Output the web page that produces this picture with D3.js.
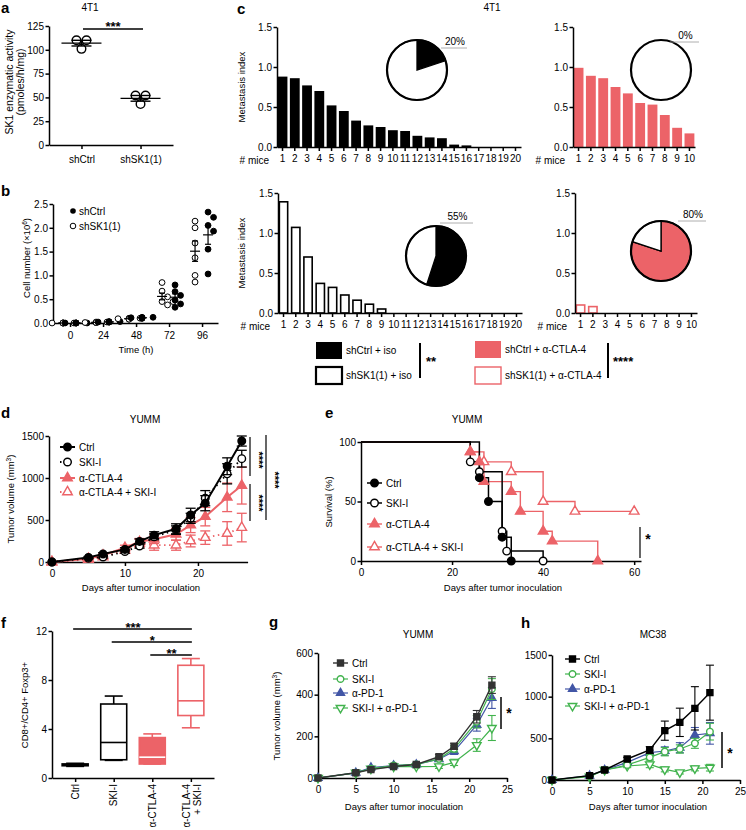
<!DOCTYPE html>
<html><head><meta charset="utf-8">
<script src="https://cdn.jsdelivr.net/npm/d3@7"></script>
<style>body{margin:0;background:#fff}svg{font-family:'Liberation Sans',Arial,Helvetica,sans-serif}</style>
</head><body><svg id="chart" width="746" height="830"></svg>
<script>
// ---------------- DATA ----------------
// a
const aGroups = ["shCtrl", "shSK1(1)"];
const aShCtrl = [110, 110, 101];
const aShSK1 = [52, 52, 43];
const aTicks = [0, 25, 50, 75, 100, 125];
// b
const bTimes = [0, 24, 48, 72, 96];
const bShCtrl = [[0, 0, 0, 0, 0, 0], [0.02, 0.02, 0.03, 0.02, 0.03, 0.02], [0.10, 0.11, 0.12, 0.10, 0.12, 0.11], [0.80, 0.66, 0.58, 0.48, 0.40, 0.33], [2.33, 2.22, 2.05, 1.93, 1.55, 1.03]];
const bShSK1 = [[0, 0, 0, 0, 0, 0], [0.01, 0.01, 0.02, 0.01, 0.02, 0.01], [0.08, 0.09, 0.10, 0.08, 0.09, 0.10], [0.85, 0.67, 0.55, 0.45, 0.45, 0.38], [2.14, 2.0, 1.68, 1.37, 1.0, 0.86]];
const bTicks = [0, 0.5, 1.0, 1.5, 2.0, 2.5];
// c
const cShCtrlIso = [0.88, 0.86, 0.77, 0.70, 0.52, 0.45, 0.33, 0.27, 0.25, 0.21, 0.20, 0.14, 0.12, 0.11, 0.03, 0.02, 0, 0, 0, 0];
const cShSK1Iso = [1.39, 1.07, 0.70, 0.37, 0.32, 0.225, 0.16, 0.11, 0.05, 0, 0, 0, 0, 0, 0, 0, 0, 0, 0, 0];
const cShCtrlCTLA = [0.99, 0.89, 0.86, 0.75, 0.67, 0.55, 0.53, 0.40, 0.24, 0.17];
const cShSK1CTLA = [0.10, 0.08, 0, 0, 0, 0, 0, 0, 0, 0];
const cFreePct = [20, 55, 0, 80]; // TL, BL, TR, BR
const cTicks = [0, 0.5, 1.0, 1.5];
const cLegend = ["shCtrl + iso", "shSK1(1) + iso", "shCtrl + α-CTLA-4", "shSK1(1) + α-CTLA-4"];
// d
const dDays = [0, 5, 7, 10, 12, 14, 17, 19, 21, 24, 26];
const dCtrl = [0, 55, 95, 150, 245, 320, 395, 560, 700, 1140, 1440];
const dCtrlErr = [0, 10, 15, 20, 30, 40, 60, 80, 90, 100, 60];
const dSKI = [0, 45, 60, 125, 190, 300, 380, 520, 760, 1050, 1230];
const dSKIErr = [0, 8, 12, 20, 25, 35, 50, 60, 90, 120, 100];
const dCTLA = [0, 40, 80, 170, 240, 270, 330, 440, 540, 770, 910];
const dCTLAErr = [0, 10, 15, 30, 40, 50, 70, 90, 110, 170, 220];
const dCombo = [0, 30, 60, 140, 220, 200, 200, 250, 290, 340, 410];
const dComboErr = [0, 8, 12, 30, 50, 60, 60, 70, 80, 140, 170];
const dLegend = ["Ctrl", "SKI-I", "α-CTLA-4", "α-CTLA-4 + SKI-I"];
const dYTicks = [0, 500, 1000, 1500];
const dXTicks = [0, 10, 20];
// e
const eCtrlT = [0, 26, 28, 31, 33], eCtrlS = [100, 70, 50, 20, 0];
const eSKIT = [0, 24, 26, 31, 32, 40], eSKIS = [100, 83.3, 75, 25, 8.3, 0];
const eCTLAT = [0, 24, 26, 27, 33, 35, 40, 42, 52], eCTLAS = [100, 91.7, 83.3, 66.7, 58.3, 41.7, 25, 16.7, 0];
const eComboT = [0, 24, 27, 33, 40, 47, 60], eComboS = [100, 91.7, 83.3, 75, 50, 41.7, 41.7];
const eYTicks = [0, 50, 100];
const eXTicks = [0, 20, 40, 60];
// f
const fGroups = ["Ctrl", "SKI-I", "α-CTLA-4", "α-CTLA-4|+ SKI-I"];
const fMin = [0.95, 1.44, 1.14, 4.1];
const fQ1 = [1.0, 1.49, 1.14, 5.1];
const fMed = [1.05, 2.9, 1.7, 6.3];
const fQ3 = [1.15, 6.04, 3.3, 9.2];
const fMax = [1.2, 6.69, 3.6, 9.75];
const fTicks = [0, 4, 8, 12];
// g
const gDays = [0, 5, 7, 10, 13, 16, 18, 21, 23];
const gCtrl = [0, 25, 40, 55, 65, 102, 152, 294, 446];
const gCtrlErr = [0, 4, 6, 6, 6, 10, 15, 30, 40];
const gSKI = [0, 25, 45, 60, 65, 92, 140, 270, 427];
const gSKIErr = [0, 4, 6, 6, 6, 10, 15, 30, 50];
const gPD1 = [0, 25, 50, 60, 65, 90, 128, 255, 384];
const gPD1Err = [0, 4, 6, 6, 6, 10, 15, 30, 50];
const gCombo = [0, 25, 45, 55, 55, 56, 75, 158, 240];
const gComboErr = [0, 4, 6, 6, 6, 10, 15, 30, 60];
const gLegend = ["Ctrl", "SKI-I", "α-PD-1", "SKI-I + α-PD-1"];
const gYTicks = [0, 200, 400, 600];
const ghXTicks = [0, 5, 10, 15, 20, 25];
// h
const hDays = [0, 5, 7, 10, 13, 15, 17, 19, 21];
const hCtrl = [0, 52, 120, 252, 360, 592, 692, 860, 1048];
const hCtrlErr = [0, 8, 12, 20, 40, 115, 170, 260, 330];
const hSKI = [0, 48, 120, 180, 272, 340, 372, 440, 580];
const hSKIErr = [0, 8, 12, 20, 30, 50, 50, 60, 100];
const hPD1 = [0, 52, 120, 212, 328, 348, 388, 540, 560];
const hPD1Err = [0, 8, 12, 20, 30, 50, 60, 90, 130];
const hCombo = [0, 40, 120, 168, 188, 128, 92, 140, 148];
const hComboErr = [0, 8, 12, 20, 40, 30, 20, 30, 40];
const hYTicks = [0, 500, 1000, 1500];

// ---------------- HELPERS ----------------
const svg = d3.select("#chart");
const FONT = "'Liberation Sans', Arial, Helvetica, sans-serif";
const RED = "#ec6368", GREEN = "#41b34d", BLUE = "#4256a6", DARK = "#333333";

function styleAxis(g) {
  g.attr("font-family", FONT).attr("font-size", 10);
  g.selectAll(".domain").attr("stroke", "#000").attr("stroke-width", 1.5);
  g.selectAll(".tick line").attr("stroke", "#000").attr("stroke-width", 1.5);
  g.selectAll(".tick text").attr("fill", "#000");
}
function txt(g, x, y, s, o = {}) {
  const t = g.append("text").attr("x", x).attr("y", y).text(s)
    .attr("font-size", o.size || 10).attr("fill", o.fill || "#000")
    .attr("text-anchor", o.anchor || "start");
  if (o.bold) t.attr("font-weight", "bold");
  if (o.rotate != null) t.attr("transform", `rotate(${o.rotate},${x},${y})`);
  if (o.dy) t.attr("dy", o.dy);
  return t;
}
function yAxis(g, scale, x, ticks, fmt) {
  g.append("g").attr("transform", `translate(${x},0)`)
    .call(d3.axisLeft(scale).tickValues(ticks).tickSize(3.5).tickSizeOuter(0).tickPadding(1.5).tickFormat(fmt || d3.format("d")))
    .call(styleAxis);
}
function xAxis(g, scale, y, ticks, fmt, pad) {
  const ax = d3.axisBottom(scale).tickSize(4).tickSizeOuter(0).tickPadding(pad || 3);
  if (ticks) ax.tickValues(ticks);
  if (fmt) ax.tickFormat(fmt);
  g.append("g").attr("transform", `translate(0,${y})`).call(ax).call(styleAxis);
}
const symMap = { circle: d3.symbolCircle, square: d3.symbolSquare, tri: d3.symbolTriangle, tridown: d3.symbolTriangle };
function marker(g, type, x, y, color, filled, size) {
  g.append("path").attr("d", d3.symbol(symMap[type], size || 40)())
    .attr("transform", `translate(${x},${y})` + (type === "tridown" ? " rotate(180)" : ""))
    .attr("fill", filled ? color : "#fff").attr("stroke", color).attr("stroke-width", 1.4);
}
function stars(g, x, lineY, s, size) { txt(g, x, lineY + 4, s, { anchor: "middle", bold: true, size: size || 13 }); }
function panelLetter(x, y, s) { txt(svg, x, y, s, { bold: true, size: 15 }); }

function lineSeries(g, x, y, days, series, capW) {
  series.forEach(s => {
    const eg = g.append("g");
    days.forEach((d, i) => {
      const e = s.err[i]; if (!e) return;
      const cx = x(d), y1 = y(s.vals[i] + e), y0 = y(Math.max(0, s.vals[i] - e));
      eg.append("line").attr("x1", cx).attr("x2", cx).attr("y1", y1).attr("y2", y0).attr("stroke", s.color).attr("stroke-width", s.ew || 1.3);
      [y1, y0].forEach(yy => eg.append("line").attr("x1", cx - capW).attr("x2", cx + capW).attr("y1", yy).attr("y2", yy).attr("stroke", s.color).attr("stroke-width", s.ew || 1.3));
    });
    g.append("path").datum(days.map((d, i) => [d, s.vals[i]]))
      .attr("d", d3.line().x(p => x(p[0])).y(p => y(p[1])))
      .attr("fill", "none").attr("stroke", s.color).attr("stroke-width", s.width)
      .attr("stroke-dasharray", s.dash || null);
    days.forEach((d, i) => marker(g, s.marker, x(d), y(s.vals[i]), s.color, s.filled, s.size));
  });
}
function legend(g, x0, ys, labels, series, len) {
  labels.forEach((l, i) => {
    const s = series[i];
    g.append("line").attr("x1", x0).attr("x2", x0 + len).attr("y1", ys[i]).attr("y2", ys[i])
      .attr("stroke", s.color).attr("stroke-width", s.width).attr("stroke-dasharray", s.dash || null);
    marker(g, s.marker, x0 + len / 2, ys[i], s.color, s.filled, s.size);
    txt(g, x0 + len + 4, ys[i], l, { dy: "0.35em", size: 10 });
  });
}

// ---------------- PANEL A ----------------
{
  const g = svg.append("g");
  panelLetter(1, 13, "a");
  txt(g, 90, 11, "4T1", { anchor: "middle" });
  const y = d3.scaleLinear().domain([0, 125]).range([145, 26]);
  const x = d3.scalePoint().domain(aGroups).range([49, 173]).padding(0.55);
  yAxis(g, y, 49, aTicks);
  xAxis(g, x, 145, null, null, 7);
  txt(g, 9, 82, "SK1 enzymatic activity", { anchor: "middle", rotate: -90, dy: "0.35em", size: 10.5 });
  txt(g, 20, 82, "(pmoles/h/mg)", { anchor: "middle", rotate: -90, dy: "0.35em", size: 10.5 });
  const jit = [-5, 5, 0];
  [aShCtrl, aShSK1].forEach((vals, k) => {
    const cx = x(aGroups[k]);
    const m = d3.mean(vals), se = d3.deviation(vals) / Math.sqrt(vals.length);
    vals.forEach((v, i) => g.append("circle").attr("cx", cx + jit[i]).attr("cy", y(v)).attr("r", 4.3).attr("fill", "none").attr("stroke", "#000").attr("stroke-width", 1.4));
    g.append("line").attr("x1", cx - 20).attr("x2", cx + 20).attr("y1", y(m)).attr("y2", y(m)).attr("stroke", "#000").attr("stroke-width", 1.4);
    g.append("line").attr("x1", cx).attr("x2", cx).attr("y1", y(m + se)).attr("y2", y(m - se)).attr("stroke", "#000").attr("stroke-width", 1.4);
    [m + se, m - se].forEach(v => g.append("line").attr("x1", cx - 10).attr("x2", cx + 10).attr("y1", y(v)).attr("y2", y(v)).attr("stroke", "#000").attr("stroke-width", 1.4));
  });
  g.append("line").attr("x1", 83).attr("x2", 143).attr("y1", 29).attr("y2", 29).attr("stroke", "#000").attr("stroke-width", 1.5);
  stars(g, 113, 27, "***");
}

// ---------------- PANEL B ----------------
{
  const g = svg.append("g");
  panelLetter(1, 196, "b");
  const x = d3.scaleLinear().domain([-12.4, 107.6]).range([53, 218]);
  const y = d3.scaleLinear().domain([0, 2.5]).range([323, 204]);
  yAxis(g, y, 53, bTicks, d3.format(".1f"));
  xAxis(g, x, 323, bTimes, d3.format("d"), 5);
  const yl = g.append("text").attr("transform", "translate(27,258) rotate(-90)").attr("text-anchor", "middle").attr("font-size", 9.5).attr("dy", "0.35em");
  yl.append("tspan").text("Cell number (×10");
  yl.append("tspan").text("6").attr("font-size", 6.5).attr("dy", "-0.5em");
  yl.append("tspan").text(")").attr("dy", "0.3em");
  txt(g, 136, 353, "Time (h)", { anchor: "middle", size: 9.5 });
  g.append("circle").attr("cx", 73).attr("cy", 211).attr("r", 2.8).attr("fill", "#000");
  txt(g, 79, 211, "shCtrl", { dy: "0.35em" });
  g.append("circle").attr("cx", 73).attr("cy", 226).attr("r", 2.8).attr("fill", "#fff").attr("stroke", "#000").attr("stroke-width", 1);
  txt(g, 79, 226, "shSK1(1)", { dy: "0.35em" });
  function swarm(vals, cx) {
    const placed = [];
    const order = vals.map((v, i) => i).sort((a, b) => vals[b] - vals[a]);
    const out = [];
    order.forEach(i => {
      const py = y(vals[i]);
      const offs = [0, 5.5, -5.5, 11, -11, 3, -3];
      for (const o of offs) {
        if (placed.every(p => Math.hypot(p[0] - (cx + o), p[1] - py) >= 5.8)) { placed.push([cx + o, py]); out.push([cx + o, py]); return; }
      }
      placed.push([cx, py]); out.push([cx, py]);
    });
    return out;
  }
  bTimes.forEach((t, i) => {
    [[bShSK1[i], -7, false], [bShCtrl[i], 6, true]].forEach(([vals, off, filled]) => {
      const cx = x(t) + off;
      swarm(vals, cx).forEach(p => g.append("circle").attr("cx", p[0]).attr("cy", p[1]).attr("r", 2.9)
        .attr("fill", filled ? "#000" : "#fff").attr("stroke", "#000").attr("stroke-width", 1));
      const m = d3.mean(vals), se = d3.deviation(vals) / Math.sqrt(vals.length);
      g.append("line").attr("x1", cx - 5).attr("x2", cx + 5).attr("y1", y(m)).attr("y2", y(m)).attr("stroke", "#000").attr("stroke-width", 1.2);
      if (se > 0.01) {
        g.append("line").attr("x1", cx).attr("x2", cx).attr("y1", y(m + se)).attr("y2", y(m - se)).attr("stroke", "#000").attr("stroke-width", 1.2);
        [m + se, m - se].forEach(v => g.append("line").attr("x1", cx - 3).attr("x2", cx + 3).attr("y1", y(v)).attr("y2", y(v)).attr("stroke", "#000").attr("stroke-width", 1.2));
      }
    });
  });
}

// ---------------- PANEL C ----------------
{
  const g = svg.append("g");
  panelLetter(237, 14, "c");
  txt(g, 492, 11, "4T1", { anchor: "middle" });
  const cfgs = [
    { vals: cShCtrlIso, x0: 277, x1: 521, yt: 27, yb: 147, fill: "#000", stroke: null, pct: cFreePct[0], pieFill: "#000", cx: 417, cy: 70, ylab: true, lab: [-22, 24, 50] },
    { vals: cShSK1Iso, x0: 278, x1: 522, yt: 193, yb: 313, fill: "#fff", stroke: "#000", pct: cFreePct[1], pieFill: "#000", cx: 436, cy: 256, ylab: true, lab: [-33, 4, 37] },
    { vals: cShCtrlCTLA, x0: 573, x1: 695, yt: 27, yb: 147, fill: RED, stroke: null, pct: cFreePct[2], pieFill: RED, cx: 661, cy: 70, ylab: false, lab: [-28, 9, 38] },
    { vals: cShSK1CTLA, x0: 575, x1: 697, yt: 193, yb: 313, fill: "#fff", stroke: RED, pct: cFreePct[3], pieFill: RED, cx: 661, cy: 251, ylab: false, lab: [-30, 17, 45] }
  ];
  cfgs.forEach(c => {
    const n = c.vals.length;
    const x = d3.scaleBand().domain(d3.range(1, n + 1)).range([c.x0, c.x1]).paddingInner(0.2).paddingOuter(0.05);
    const y = d3.scaleLinear().domain([0, 1.5]).range([c.yb, c.yt]);
    c.vals.forEach((v, i) => {
      if (v <= 0) return;
      g.append("rect").attr("x", x(i + 1) + (c.stroke ? 0.75 : 0)).attr("width", x.bandwidth() - (c.stroke ? 1.5 : 0))
        .attr("y", y(v)).attr("height", y(0) - y(v))
        .attr("fill", c.fill).attr("stroke", c.stroke).attr("stroke-width", c.stroke ? 1.6 : 0);
    });
    yAxis(g, y, c.x0, cTicks, d3.format(".1f"));
    xAxis(g, x, c.yb, null, null, 4);
    txt(g, c.x0 - 8, c.yb + 17, "# mice", { anchor: "end" });
    if (c.ylab) txt(g, 242, (c.yt + c.yb) / 2, "Metastasis index", { anchor: "middle", rotate: -90, dy: "0.35em", size: 9.5 });
    const r = 30;
    const arcs = d3.pie().sort(null)([c.pct, 100 - c.pct]);
    const arc = d3.arc().innerRadius(0).outerRadius(r);
    const pg = g.append("g").attr("transform", `translate(${c.cx},${c.cy})`);
    arcs.forEach((a, i) => {
      if (a.endAngle - a.startAngle <= 0) return;
      pg.append("path").attr("d", arc(a)).attr("fill", i === 0 ? c.pieFill : "#fff").attr("stroke", "#000").attr("stroke-width", c.pct > 0 ? 1.3 : 0);
    });
    pg.append("circle").attr("r", r).attr("fill", "none").attr("stroke", "#000").attr("stroke-width", 2.2);
    const ly = c.cy + c.lab[0];
    g.append("line").attr("x1", c.cx + c.lab[1]).attr("x2", c.cx + c.lab[2]).attr("y1", ly).attr("y2", ly).attr("stroke", "#999").attr("stroke-width", 0.8);
    txt(g, c.cx + (c.lab[1] + c.lab[2]) / 2 + 1, ly - 3, c.pct + "%", { anchor: "middle" });
  });
  const lg = svg.append("g");
  const boxes = [[316, 342, "#000", "#000", 0], [316, 367, "#fff", "#000", 2.2], [475, 341, RED, RED, 0], [475, 367, "#fff", RED, 1.4]];
  boxes.forEach((b, i) => {
    lg.append("rect").attr("x", b[0]).attr("y", b[1]).attr("width", 26).attr("height", 17)
      .attr("fill", b[2]).attr("stroke", b[4] ? b[3] : null).attr("stroke-width", b[4]);
    txt(lg, b[0] + 30, b[1] + 8.5, cLegend[i], { dy: "0.35em" });
  });
  lg.append("line").attr("x1", 420).attr("x2", 420).attr("y1", 343).attr("y2", 378).attr("stroke", "#000").attr("stroke-width", 2);
  txt(lg, 426, 366, "**", { bold: true, size: 13 });
  lg.append("line").attr("x1", 608).attr("x2", 608).attr("y1", 343).attr("y2", 378).attr("stroke", "#000").attr("stroke-width", 2);
  txt(lg, 613, 366, "****", { bold: true, size: 13 });
}

// ---------------- PANEL D ----------------
{
  const g = svg.append("g");
  panelLetter(1, 418, "d");
  txt(g, 145, 423, "YUMM", { anchor: "middle" });
  const x = d3.scaleLinear().domain([-0.4, 26.8]).range([49, 247.6]);
  const y = d3.scaleLinear().domain([0, 1500]).range([562, 436]);
  yAxis(g, y, 49, dYTicks);
  xAxis(g, x, 562, dXTicks, d3.format("d"), 4);
  const yl = g.append("text").attr("transform", "translate(11,499) rotate(-90)").attr("text-anchor", "middle").attr("font-size", 9.5).attr("dy", "0.35em");
  yl.append("tspan").text("Tumor volume (mm");
  yl.append("tspan").text("3").attr("font-size", 6.5).attr("dy", "-0.5em");
  yl.append("tspan").text(")").attr("dy", "0.3em");
  txt(g, 141, 591, "Days after tumor inoculation", { anchor: "middle", size: 9.5 });
  const series = [
    { vals: dCombo, err: dComboErr, color: RED, width: 1.8, dash: "1.5,3.5", marker: "tri", filled: false, size: 40 },
    { vals: dCTLA, err: dCTLAErr, color: RED, width: 2, marker: "tri", filled: true, size: 40 },
    { vals: dSKI, err: dSKIErr, color: "#000", width: 1.8, dash: "1.5,3.5", marker: "circle", filled: false, size: 45 },
    { vals: dCtrl, err: dCtrlErr, color: "#000", width: 2, marker: "circle", filled: true, size: 45 }
  ];
  series.forEach(s => s.ew = 1.3);
  lineSeries(g, x, y, dDays, series, 5);
  legend(g, 60, [447, 462, 478, 492], dLegend, [series[3], series[2], series[1], series[0]], 15);
  [[250, 437, 476], [250, 484, 521], [266, 435, 520]].forEach(l => g.append("line").attr("x1", l[0]).attr("x2", l[0]).attr("y1", l[1]).attr("y2", l[2]).attr("stroke", "#000").attr("stroke-width", 1.2));
  [[255, 460], [255, 503], [271, 480]].forEach(p => txt(g, p[0], p[1], "****", { anchor: "middle", bold: true, size: 11, rotate: 90 }));
}

// ---------------- PANEL E ----------------
{
  const g = svg.append("g");
  panelLetter(325, 418, "e");
  txt(g, 467, 423, "YUMM", { anchor: "middle" });
  const x = d3.scaleLinear().domain([0, 61.5]).range([361, 641]);
  const y = d3.scaleLinear().domain([0, 100]).range([561, 442]);
  yAxis(g, y, 361, eYTicks);
  xAxis(g, x, 561, eXTicks, d3.format("d"), 4);
  txt(g, 329, 502, "Survival (%)", { anchor: "middle", rotate: -90, dy: "0.35em", size: 9.5 });
  txt(g, 503, 591, "Days after tumor inoculation", { anchor: "middle", size: 9.5 });
  const series = [
    { t: eComboT, s: eComboS, color: RED, width: 1.4, marker: "tri", filled: false, size: 40 },
    { t: eCTLAT, s: eCTLAS, color: RED, width: 1.4, marker: "tri", filled: true, size: 40 },
    { t: eSKIT, s: eSKIS, color: "#000", width: 1.5, marker: "circle", filled: false, size: 45 },
    { t: eCtrlT, s: eCtrlS, color: "#000", width: 1.5, marker: "circle", filled: true, size: 45 }
  ];
  series.forEach(se => {
    const pts = se.t.map((t, i) => [t, se.s[i]]);
    g.append("path").datum(pts).attr("d", d3.line().x(p => x(p[0])).y(p => y(p[1])).curve(d3.curveStepAfter))
      .attr("fill", "none").attr("stroke", se.color).attr("stroke-width", se.width);
  });
  series.forEach(se => se.t.forEach((t, i) => { if (i > 0) marker(g, se.marker, x(t), y(se.s[i]), se.color, se.filled, se.size); }));
  legend(g, 367, [483, 503, 524, 547], dLegend, [series[3], series[2], series[1], series[0]], 15);
  g.append("line").attr("x1", 640).attr("x2", 640).attr("y1", 527).attr("y2", 558).attr("stroke", "#000").attr("stroke-width", 1.2);
  stars(g, 648, 540, "*", 14);
}

// ---------------- PANEL F ----------------
{
  const g = svg.append("g");
  panelLetter(1, 628, "f");
  const y = d3.scaleLinear().domain([0, 12]).range([778, 631]);
  const x = d3.scalePoint().domain(fGroups).range([52, 214]).padding(0.6);
  yAxis(g, y, 52, fTicks);
  const xa = d3.axisBottom(x).tickSize(4).tickSizeOuter(0).tickFormat("");
  g.append("g").attr("transform", "translate(0,778)").call(xa).call(styleAxis);
  fGroups.forEach((grp, i) => {
    const lines = grp.split("|");
    lines.forEach((l, k) => {
      const cx = x(grp) + (lines.length > 1 ? (k === 0 ? -4 : 7) : 0);
      txt(g, cx, 784, l, { anchor: "end", rotate: -90, dy: "0.35em" });
    });
  });
  txt(g, 25, 705, "CD8+/CD4+ Foxp3+", { anchor: "middle", rotate: -90, dy: "0.35em", size: 9.5 });
  const styles = [["#000", "#000", "#000"], ["#fff", "#000", "#000"], [RED, RED, "#fff"], ["#fff", RED, RED]];
  const bw = 26;
  fGroups.forEach((grp, i) => {
    const cx = x(grp), st = styles[i];
    g.append("line").attr("x1", cx).attr("x2", cx).attr("y1", y(fMax[i])).attr("y2", y(fMin[i])).attr("stroke", st[1]).attr("stroke-width", 1.6);
    [fMax[i], fMin[i]].forEach(v => g.append("line").attr("x1", cx - 9).attr("x2", cx + 9).attr("y1", y(v)).attr("y2", y(v)).attr("stroke", st[1]).attr("stroke-width", 1.6));
    g.append("rect").attr("x", cx - bw / 2).attr("width", bw).attr("y", y(fQ3[i])).attr("height", y(fQ1[i]) - y(fQ3[i]))
      .attr("fill", st[0]).attr("stroke", st[1]).attr("stroke-width", 1.6);
    g.append("line").attr("x1", cx - bw / 2).attr("x2", cx + bw / 2).attr("y1", y(fMed[i])).attr("y2", y(fMed[i])).attr("stroke", st[2]).attr("stroke-width", 1.6);
  });
  const last = x(fGroups[3]);
  [[0, 629, "***"], [1, 642, "*"], [2, 655, "**"]].forEach(s => {
    const x0 = x(fGroups[s[0]]);
    g.append("line").attr("x1", x0 - 2).attr("x2", last + 1).attr("y1", s[1]).attr("y2", s[1]).attr("stroke", "#000").attr("stroke-width", 1.5);
    stars(g, (x0 + last) / 2, s[1] - 1, s[2]);
  });
}

// ---------------- PANELS G, H ----------------
function ghPanel(o) {
  const g = svg.append("g");
  const x = d3.scaleLinear().domain([0, 25]).range([o.x0, o.x1]);
  const y = d3.scaleLinear().domain([0, o.ymax]).range([o.yb, o.yt]);
  yAxis(g, y, o.x0, o.yticks);
  xAxis(g, x, o.yb, ghXTicks, d3.format("d"), 4);
  const series = [
    { vals: o.d[3], err: o.e[3], color: GREEN, width: 1.2, marker: "tridown", filled: false, size: 32 },
    { vals: o.d[2], err: o.e[2], color: BLUE, width: 1.2, marker: "tri", filled: true, size: 28 },
    { vals: o.d[1], err: o.e[1], color: GREEN, width: 1.2, marker: "circle", filled: false, size: 34 },
    { vals: o.d[0], err: o.e[0], color: o.ctrlColor, width: 1.4, marker: "square", filled: true, size: 36 }
  ];
  series.forEach(s => s.ew = 1.1);
  lineSeries(g, x, y, o.days, series, 4);
  legend(g, o.legX, o.legY, gLegend, [series[3], series[2], series[1], series[0]], 15);
  return g;
}
{
  panelLetter(269, 627, "g");
  const g = ghPanel({ x0: 318, x1: 507, yb: 778, yt: 653, ymax: 600, yticks: gYTicks, days: gDays,
    d: [gCtrl, gSKI, gPD1, gCombo], e: [gCtrlErr, gSKIErr, gPD1Err, gComboErr], ctrlColor: DARK, legX: 333, legY: [663, 679, 693, 708] });
  txt(g, 418, 638, "YUMM", { anchor: "middle" });
  const yl = g.append("text").attr("transform", "translate(277,716) rotate(-90)").attr("text-anchor", "middle").attr("font-size", 9.5).attr("dy", "0.35em");
  yl.append("tspan").text("Tumor volume (mm");
  yl.append("tspan").text("3").attr("font-size", 6.5).attr("dy", "-0.5em");
  yl.append("tspan").text(")").attr("dy", "0.3em");
  txt(g, 404, 810, "Days after tumor inoculation", { anchor: "middle", size: 9.5 });
  g.append("line").attr("x1", 501).attr("x2", 501).attr("y1", 697).attr("y2", 729).attr("stroke", "#000").attr("stroke-width", 1.5);
  stars(g, 509, 714, "*", 14);
}
{
  panelLetter(521, 628, "h");
  const g = ghPanel({ x0: 552, x1: 740, yb: 780, yt: 655, ymax: 1500, yticks: hYTicks, days: hDays,
    d: [hCtrl, hSKI, hPD1, hCombo], e: [hCtrlErr, hSKIErr, hPD1Err, hComboErr], ctrlColor: "#000", legX: 565, legY: [659, 674, 689, 706] });
  txt(g, 653, 638, "MC38", { anchor: "middle" });
  txt(g, 648, 810, "Days after tumor inoculation", { anchor: "middle", size: 9.5 });
  g.append("line").attr("x1", 722).attr("x2", 722).attr("y1", 732).attr("y2", 768).attr("stroke", "#000").attr("stroke-width", 1.5);
  stars(g, 730, 754, "*", 14);
}
</script></body></html>
